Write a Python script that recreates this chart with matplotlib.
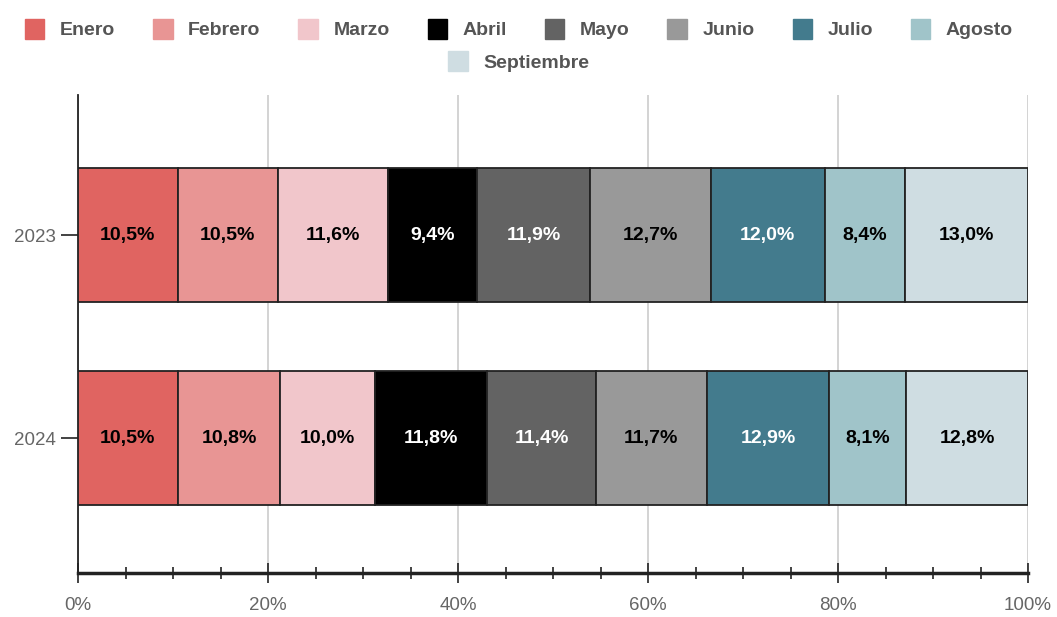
"""Stacked 100% bar chart: monthly share per year (2023 vs 2024) -> out.png."""
import matplotlib
matplotlib.use("Agg")
import matplotlib.pyplot as plt
from matplotlib.patches import Patch
from matplotlib.ticker import MultipleLocator, FuncFormatter

plt.rcParams["font.family"] = ["Liberation Sans", "DejaVu Sans"]

years = ["2023", "2024"]
months = ["Enero", "Febrero", "Marzo", "Abril", "Mayo", "Junio",
          "Julio", "Agosto", "Septiembre"]
share_2023 = [10.5, 10.5, 11.6, 9.4, 11.9, 12.7, 12.0, 8.4, 13.0]
share_2024 = [10.5, 10.8, 10.0, 11.8, 11.4, 11.7, 12.9, 8.1, 12.8]

colors = ["#e06461", "#e89594", "#f1c6cb", "#000000", "#636363",
          "#999999", "#437b8d", "#a0c4c9", "#cfdde2"]
text_colors = ["black", "black", "black", "white", "white",
               "black", "white", "black", "black"]

fig = plt.figure(figsize=(10.57, 6.17), dpi=100)
ax = fig.add_axes([0.0738, 0.0713, 0.8988, 0.7747])

for yi, vals in enumerate([share_2023, share_2024]):
    left = 0.0
    for m, v in enumerate(vals):
        ax.barh(yi, v, left=left, height=0.66, color=colors[m],
                edgecolor="#222222", linewidth=1.3, zorder=3)
        ax.text(left + v / 2, yi, f"{v:.1f}%".replace(".", ","),
                ha="center", va="center", fontsize=14, fontweight="bold",
                color=text_colors[m], zorder=4)
        left += v

ax.set_xlim(0, 100)
ax.set_ylim(1.665, -0.69)
ax.set_yticks([0, 1])
ax.set_yticklabels(years)

ax.xaxis.set_major_locator(MultipleLocator(20))
ax.xaxis.set_minor_locator(MultipleLocator(5))
ax.xaxis.set_major_formatter(FuncFormatter(lambda x, _: f"{x:.0f}%"))
ax.tick_params(axis="x", which="major", direction="inout", length=14, width=1.2,
               color="#222222", labelcolor="#666666", labelsize=13.5, pad=10)
ax.tick_params(axis="x", which="minor", direction="inout", length=8, width=1.2,
               color="#222222")
ax.tick_params(axis="y", direction="out", length=12, width=1.2, color="#222222",
               labelcolor="#666666", labelsize=13.5, pad=4)

ax.grid(axis="x", which="major", color="#cccccc", lw=1.2, zorder=0)
for side in ["top", "right"]:
    ax.spines[side].set_visible(False)
ax.spines["left"].set_color("#222222")
ax.spines["left"].set_linewidth(1.3)
ax.spines["bottom"].set_color("#222222")
ax.spines["bottom"].set_linewidth(2.5)

handles = [Patch(facecolor=c, edgecolor=c, label=m) for m, c in zip(months, colors)]
leg_kw = dict(frameon=False, handlelength=1.0, handleheight=1.2, handletextpad=0.8,
              columnspacing=1.95, prop={"weight": "bold", "size": 14})
leg1 = fig.legend(handles=handles[:8], ncol=8, loc="center",
                  bbox_to_anchor=(0.491, 0.953), **leg_kw)
leg2 = fig.legend(handles=handles[8:], ncol=1, loc="center",
                  bbox_to_anchor=(0.491, 0.9), **leg_kw)
for leg in (leg1, leg2):
    for t in leg.get_texts():
        t.set_color("#555555")

fig.savefig("out.png", dpi=100)
